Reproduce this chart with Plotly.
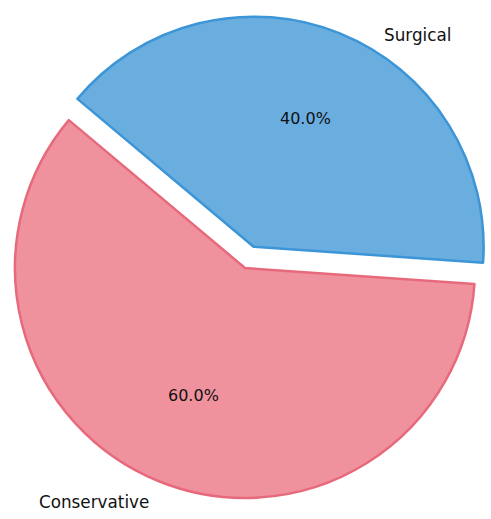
import math
import plotly.graph_objects as go

# Treatment split
labels = ["Conservative", "Surgical"]
values = [60, 40]
explode = [0.0, 0.1]

fill_colors = ["#f0929d", "#6aaee0"]
edge_colors = ["#e76a7c", "#3c95d6"]

W, H = 491, 519
cx, cy, r = 245.0, 268.0, 230.0   # pie centre (px from top-left) and radius
start_deg = 140.0                 # wedges run counter-clockwise from here
pct_distance = 0.6                # percentage text sits at this fraction of the radius

total = float(sum(values))
first_span = 360.0 * values[0] / total
# plotly's clockwise layout: the first wedge begins at `rotation` (deg from 12 o'clock)
# and sweeps clockwise, so start it where the counter-clockwise sweep would end.
rotation = (90.0 - (start_deg + first_span)) % 360.0

fig = go.Figure()

angle = start_deg
for i, (lab, val) in enumerate(zip(labels, values)):
    span = 360.0 * val / total
    mid = math.radians(angle + span / 2.0)
    angle += span
    # shift the wedge outward along its bisector by the explode fraction
    ox = cx + explode[i] * r * math.cos(mid)
    oy = cy - explode[i] * r * math.sin(mid)
    dom_x = [(ox - r) / W, (ox + r) / W]
    dom_y = [(H - oy - r) / H, (H - oy + r) / H]

    colors = ["rgba(0,0,0,0)"] * len(values)
    lines = ["rgba(0,0,0,0)"] * len(values)
    widths = [0] * len(values)
    colors[i] = fill_colors[i]
    lines[i] = edge_colors[i]
    widths[i] = 2.5

    fig.add_trace(go.Pie(
        labels=labels,
        values=values,
        sort=False,
        direction="clockwise",
        rotation=rotation,
        domain=dict(x=dom_x, y=dom_y),
        marker=dict(colors=colors, line=dict(color=lines, width=widths)),
        textinfo="none",
        hoverinfo="skip",
        showlegend=False,
    ))

    # percentage label along the wedge bisector
    tx = ox + pct_distance * r * math.cos(mid)
    ty = oy - pct_distance * r * math.sin(mid)
    fig.add_annotation(
        x=tx / W, y=1 - ty / H, xref="paper", yref="paper",
        xanchor="center", yanchor="middle",
        text=f"{100.0 * val / total:.1f}%", showarrow=False,
        font=dict(family="DejaVu Sans", size=16, color="#111111"),
    )

# category names placed outside their wedges
label_pos = {"Surgical": (417, 35), "Conservative": (94, 502)}
for lab in labels:
    px, py = label_pos[lab]
    fig.add_annotation(
        x=px / W, y=1 - py / H, xref="paper", yref="paper",
        xanchor="center", yanchor="middle",
        text=lab, showarrow=False,
        font=dict(family="DejaVu Sans", size=16.8, color="#111111"),
    )

fig.update_layout(
    width=W, height=H,
    margin=dict(l=0, r=0, t=0, b=0),
    paper_bgcolor="white",
    plot_bgcolor="white",
)

fig.write_html("out.html")
